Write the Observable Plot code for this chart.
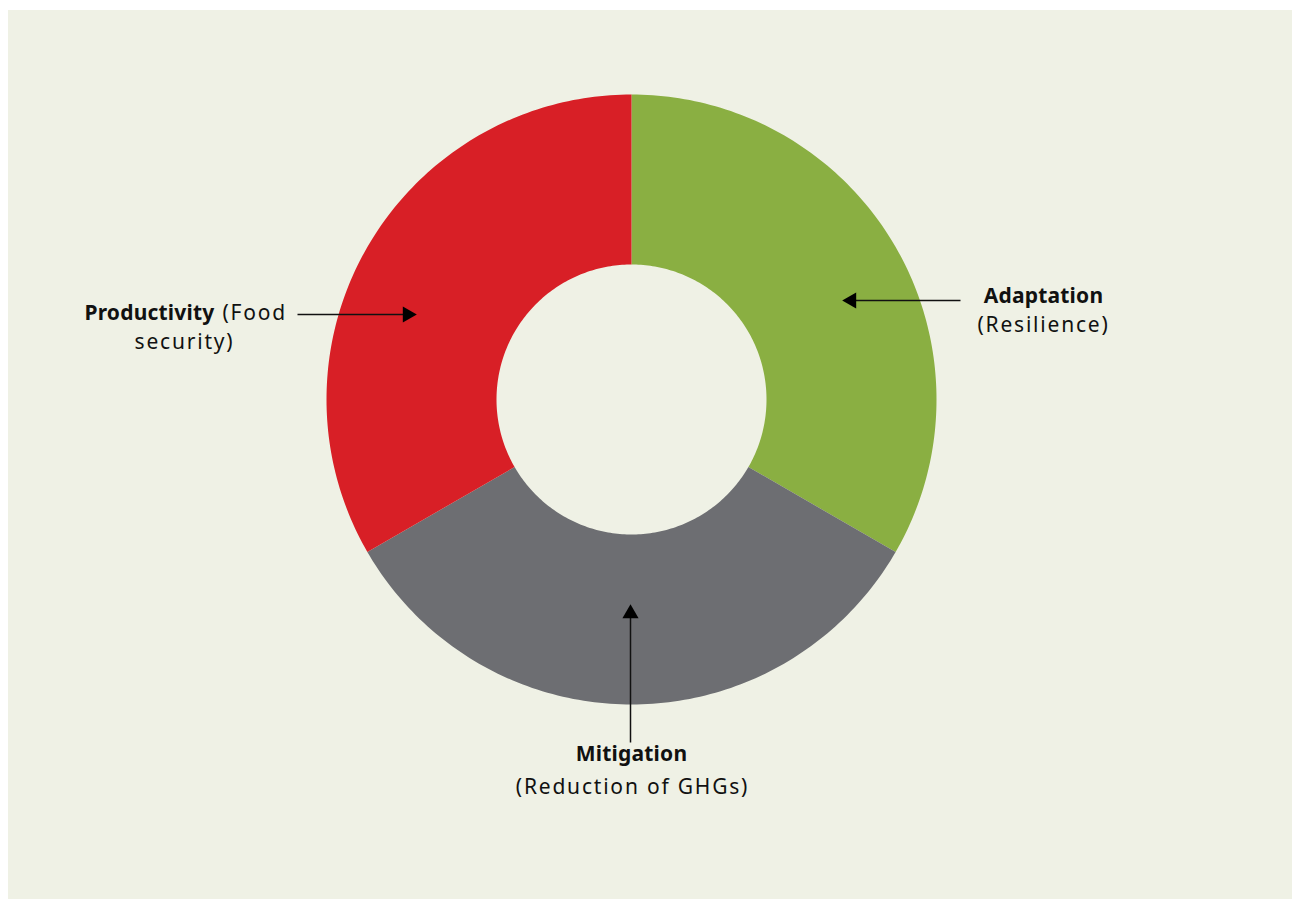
<!DOCTYPE html>
<html>
<head>
<meta charset="utf-8">
<script src="https://cdn.jsdelivr.net/npm/d3@7"></script>
<script src="https://cdn.jsdelivr.net/npm/@observablehq/plot@0.6"></script>
<style>
  html, body { margin: 0; padding: 0; background: #ffffff; }
  #bg { position: absolute; left: 8px; top: 10px; width: 1284px; height: 889px; background: #eff1e5; }
  #chart { position: absolute; left: 0; top: 0; }
  svg text { font-family: "Noto Sans", "Open Sans", sans-serif; }
  .reg text { letter-spacing: 1.8px; }
  .bold text { letter-spacing: 0.2px; }
</style>
</head>
<body>
<div id="bg"></div>
<div id="chart"></div>
<script>
// Data
const categories = ["Adaptation", "Mitigation", "Productivity"];
const values = [1, 1, 1];
const colors = ["#8aaf42", "#6d6e72", "#d81f26"];
const innerRatio = 135 / 305;

// Build arc polygons from the pie layout (unit-radius coordinates)
const pie = d3.pie().sort(null).value(d => d)(values);
const arcPts = [];
pie.forEach((p, i) => {
  const n = 120;
  const outer = d3.range(n + 1).map(k => p.startAngle + (p.endAngle - p.startAngle) * k / n);
  const pts = [];
  outer.forEach(a => pts.push([Math.sin(a), Math.cos(a)]));
  outer.slice().reverse().forEach(a => pts.push([innerRatio * Math.sin(a), innerRatio * Math.cos(a)]));
  pts.forEach(([x, y]) => arcPts.push({cat: categories[i], x, y}));
});

// Annotation arrows (tail -> tip), unit coordinates
const px = v => (v - 631) / 305;
const py = v => (399 - v) / 305;
const arrows = [
  {cat: "Productivity", x1: px(297), y1: py(314), x2: px(407), y2: py(314), rot: 90},
  {cat: "Adaptation", x1: px(960), y1: py(300), x2: px(851), y2: py(300), rot: -90},
  {cat: "Mitigation", x1: px(630), y1: py(742), x2: px(630), y2: py(613), rot: 0}
];

const textsBold = [
  {t: "Productivity", x: px(214), y: py(313), anchor: "end"},
  {t: "Adaptation", x: px(1043), y: py(296), anchor: "middle"},
  {t: "Mitigation", x: px(631), y: py(754), anchor: "middle"}
];
const textsReg = [
  {t: "(Food", x: px(222), y: py(313), anchor: "start"},
  {t: "security)", x: px(184), y: py(342), anchor: "middle"},
  {t: "(Resilience)", x: px(1043), y: py(325), anchor: "middle"},
  {t: "(Reduction of GHGs)", x: px(632), y: py(787), anchor: "middle"}
];

const plot = Plot.plot({
  width: 1292,
  height: 899,
  marginLeft: 326,
  marginRight: 356,
  marginTop: 94,
  marginBottom: 195,
  x: {domain: [-1, 1], axis: null},
  y: {domain: [-1, 1], axis: null},
  color: {domain: categories, range: colors},
  style: {background: "transparent", overflow: "visible"},
  marks: [
    Plot.line(arcPts, {x: "x", y: "y", z: "cat", fill: "cat", stroke: "none", curve: "linear-closed"}),
    Plot.link(arrows, {x1: "x1", y1: "y1", x2: "x2", y2: "y2", stroke: "#111", strokeWidth: 1.5}),
    Plot.dot(arrows, {x: "x2", y: "y2", symbol: "triangle", r: 6, fill: "#000", stroke: "none", rotate: "rot"}),
    Plot.text(textsBold.filter(d => d.anchor === "end"), {x: "x", y: "y", text: "t", textAnchor: "end", fontSize: 21, fontWeight: "bold", fill: "#111", className: "bold"}),
    Plot.text(textsBold.filter(d => d.anchor === "middle"), {x: "x", y: "y", text: "t", textAnchor: "middle", fontSize: 21, fontWeight: "bold", fill: "#111", className: "bold"}),
    Plot.text(textsReg.filter(d => d.anchor === "start"), {x: "x", y: "y", text: "t", textAnchor: "start", fontSize: 21, fill: "#111", className: "reg"}),
    Plot.text(textsReg.filter(d => d.anchor === "middle"), {x: "x", y: "y", text: "t", textAnchor: "middle", fontSize: 21, fill: "#111", className: "reg"})
  ]
});
document.getElementById("chart").appendChild(plot);
</script>
</body>
</html>
